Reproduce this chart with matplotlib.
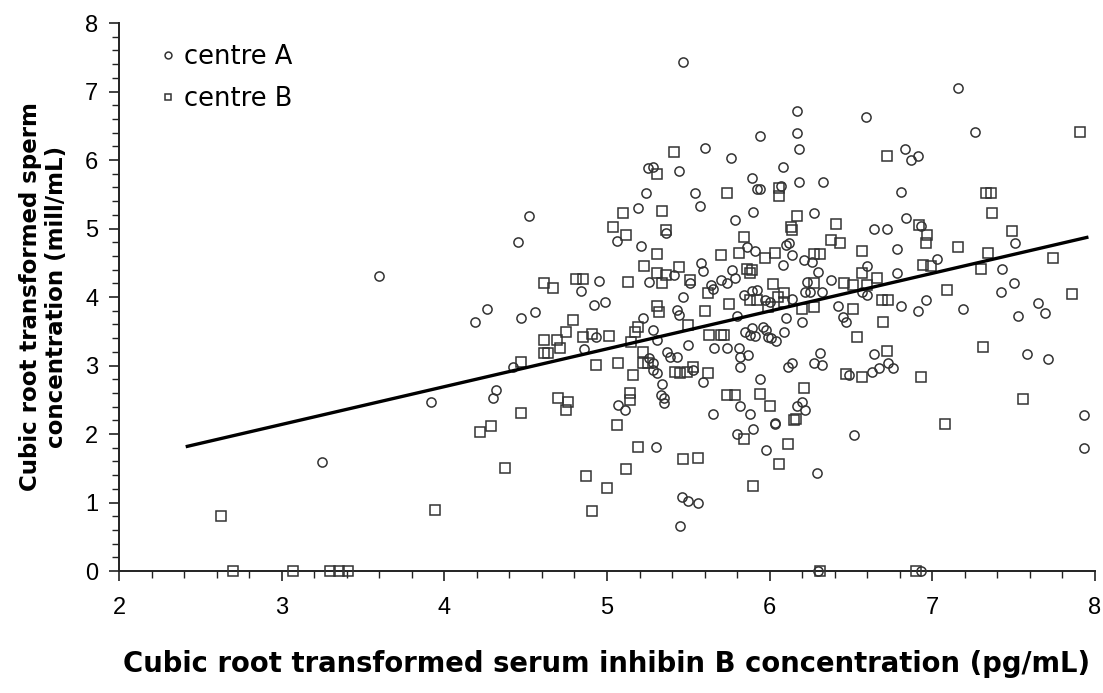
import matplotlib
matplotlib.use("Agg")
import matplotlib.pyplot as plt
from matplotlib.ticker import MultipleLocator

plt.rcParams['font.family'] = ['Liberation Sans', 'DejaVu Sans']

centre_a = [
    (3.60,4.30),(3.92,2.47),(3.25,1.59),
    (4.52,5.18),(5.25,5.88),(5.24,5.52),(5.19,5.30),
    (5.47,7.43),(6.17,6.72),(6.17,6.39),(6.18,6.16),(5.94,6.35),(5.60,6.17),(5.76,6.03),(6.08,5.90),
    (5.28,5.90),(5.44,5.84),(5.89,5.74),(5.92,5.58),(5.94,5.57),(6.07,5.62),(6.18,5.68),(6.33,5.68),
    (5.54,5.52),(5.57,5.33),(5.90,5.24),(6.27,5.23),(5.79,5.12),
    (7.16,7.05),(6.59,6.63),(7.26,6.41),(6.83,6.16),(6.91,6.06),(6.87,6.00),(6.81,5.53),(6.84,5.15),
    (6.64,5.00),(6.72,5.00),(6.93,5.03),
    (7.51,4.79),(6.78,4.70),(7.03,4.56),(6.60,4.45),(6.78,4.35),(7.43,4.41),(6.60,4.03),(6.57,4.07),
    (7.50,4.20),(7.42,4.07),(6.81,3.87),(6.96,3.96),(6.91,3.80),(7.19,3.83),(7.65,3.91),(7.69,3.77),
    (7.53,3.72),(6.64,3.17),(7.58,3.17),(7.71,3.09),(6.73,3.04),(6.76,2.96),(6.67,2.96),(6.63,2.91),
    (6.49,2.86),(7.93,2.28),
    (6.52,1.99),(7.93,1.80),(6.93,0.0),
    (5.30,1.81),(5.46,1.08),(5.50,1.02),(5.56,0.99),(5.45,0.66),(5.80,2.00),(5.90,2.07),(6.03,2.15),
    (5.98,1.77),(6.29,1.43),(6.30,0.0),
    (4.45,4.80),(5.06,4.82),(5.21,4.74),(5.26,4.22),(4.95,4.23),(4.84,4.09),(4.92,3.88),(4.99,3.93),
    (4.26,3.82),(4.19,3.63),(4.47,3.69),(4.56,3.78),(4.93,3.42),(4.86,3.24),(4.42,2.98),(5.22,3.69),
    (4.32,2.64),(4.30,2.53),(5.07,2.42),(5.11,2.35),
    (5.36,4.94),(5.86,4.73),(5.91,4.67),(6.12,4.79),(6.10,4.76),(6.14,4.61),(6.08,4.47),(6.21,4.54),
    (6.26,4.51),(5.58,4.50),(5.59,4.38),(5.41,4.32),(5.51,4.20),(5.77,4.39),(5.79,4.28),(5.70,4.25),
    (5.64,4.17),(5.65,4.12),(5.74,4.20),(5.47,4.00),(5.84,4.03),(5.89,4.09),(5.92,4.10),(5.97,3.96),
    (6.00,3.93),(6.14,3.97),(6.23,4.22),(6.25,4.07),(6.22,4.07),(6.30,4.36),(6.38,4.25),(6.32,4.07),
    (6.42,3.87),(6.10,3.69),(6.20,3.63),(6.45,3.71),(6.47,3.63),(5.43,3.81),(5.44,3.74),(5.80,3.72),
    (5.28,3.52),(5.85,3.49),(5.89,3.55),(5.88,3.45),(5.91,3.43),(5.96,3.56),(5.98,3.52),(5.99,3.42),
    (6.01,3.40),(6.04,3.36),(6.09,3.49),(5.50,3.30),(5.31,3.37),(5.66,3.26),(5.74,3.26),(5.81,3.26),
    (5.82,3.12),(5.87,3.15),(5.82,2.98),(5.37,3.20),(5.39,3.12),(5.43,3.12),(5.26,3.11),(5.28,3.04),
    (5.28,2.93),(5.31,2.89),(5.53,2.93),(5.59,2.76),(5.34,2.73),(5.33,2.57),(5.35,2.53),(5.35,2.45),
    (5.82,2.41),(5.88,2.29),(5.65,2.29),(5.94,2.80),(6.11,2.98),(6.14,3.04),(6.27,3.04),(6.31,3.18),
    (6.32,3.01),(6.17,2.41),(6.20,2.47),(6.22,2.35),(6.03,2.16),
]

centre_b = [
    (2.63,0.80),(3.94,0.89),(2.70,0.0),(3.07,0.0),(3.30,0.0),(3.35,0.0),(3.41,0.0),
    (5.10,5.23),(5.04,5.02),
    (5.41,6.11),(5.31,5.80),(6.06,5.59),(6.06,5.47),(5.74,5.52),(5.34,5.26),(6.17,5.18),(6.41,5.07),
    (6.13,5.02),(5.36,4.98),
    (7.91,6.41),(6.72,6.06),(7.33,5.52),(7.36,5.52),(7.37,5.23),(6.92,5.05),(7.49,4.97),
    (6.97,4.90),(6.96,4.79),(6.57,4.67),(7.16,4.73),(7.34,4.64),(7.74,4.57),(6.94,4.47),(6.99,4.45),
    (6.57,4.35),(7.30,4.41),(6.66,4.28),(6.51,4.17),(6.60,4.17),(7.09,4.10),(7.86,4.04),(6.69,3.96),
    (6.73,3.96),(6.51,3.82),(6.70,3.63),(6.54,3.42),(7.31,3.27),(6.72,3.21),(6.57,2.83),(6.93,2.83),
    (7.56,2.51),(7.08,2.15),(6.90,0.0),
    (5.47,1.63),(5.56,1.65),(5.84,1.93),(6.15,2.20),(6.11,1.85),(6.06,1.56),(5.90,1.24),(6.31,0.0),
    (4.22,2.03),(4.29,2.12),(4.37,1.50),(4.87,1.39),(4.91,0.88),(5.00,1.21),(5.12,1.49),(5.19,1.81),
    (5.06,2.13),
    (5.12,4.90),(5.23,4.45),(5.13,4.22),(4.81,4.26),(4.85,4.26),(4.61,4.20),(4.67,4.13),(4.79,3.66),
    (4.75,3.49),(4.61,3.37),(4.69,3.37),(4.71,3.26),(4.61,3.18),(4.64,3.18),(4.85,3.42),(4.91,3.46),
    (5.01,3.43),(4.47,3.05),(4.93,3.01),(5.07,3.04),(5.19,3.56),(5.17,3.49),(5.15,3.34),(5.22,3.20),
    (5.22,3.04),(5.25,3.04),(5.16,2.86),(4.70,2.53),(4.76,2.47),(4.75,2.35),(4.47,2.31),(5.14,2.60),
    (5.14,2.50),
    (5.84,4.88),(5.81,4.64),(5.97,4.57),(6.03,4.64),(6.14,4.98),(6.38,4.83),(6.43,4.79),(6.27,4.63),
    (6.31,4.63),(5.31,4.63),(5.70,4.61),(5.44,4.44),(5.31,4.35),(5.36,4.32),(5.34,4.20),(5.51,4.25),
    (5.86,4.41),(5.88,4.35),(5.89,4.39),(5.62,4.06),(6.02,4.19),(5.88,3.96),(5.92,3.96),(5.99,3.85),
    (6.05,4.00),(6.09,4.06),(6.09,3.93),(6.27,4.20),(6.46,4.20),(6.27,3.85),(6.20,3.82),(5.31,3.87),
    (5.32,3.78),(5.60,3.80),(5.75,3.90),(5.50,3.59),(5.63,3.45),(5.70,3.45),(5.72,3.45),(5.42,2.91),
    (5.45,2.89),(5.49,2.91),(5.53,2.98),(5.62,2.89),(5.74,2.57),(5.79,2.57),(5.94,2.58),(6.00,2.41),
    (6.47,2.88),(6.21,2.67),(6.16,2.22),
]

fit_x = [2.42, 7.95]
fit_y = [1.82, 4.87]

x_ticks = [2, 3, 4, 5, 6, 7, 8]
y_ticks = [0, 1, 2, 3, 4, 5, 6, 7, 8]

fig = plt.figure(figsize=(11.03, 6.93), dpi=100)
ax = fig.add_axes([0.1079, 0.176, 0.8848, 0.7908])

ax_x, ax_y = zip(*centre_a)
bx, by = zip(*centre_b)
ec = '#333333'
ax.plot(ax_x, ax_y, linestyle='none', marker='o', markersize=6.6, markerfacecolor='none',
        markeredgecolor=ec, markeredgewidth=1.1, label='centre A', clip_on=False, zorder=3)
ax.plot(bx, by, linestyle='none', marker='s', markersize=6.6, markerfacecolor='none',
        markeredgecolor=ec, markeredgewidth=1.1, label='centre B', clip_on=False, zorder=3)
ax.plot(fit_x, fit_y, color='black', linewidth=2.4, zorder=4)

ax.set_xlim(2, 8)
ax.set_ylim(0, 8)
ax.set_xticks(x_ticks)
ax.set_yticks(y_ticks)
ax.xaxis.set_minor_locator(MultipleLocator(0.2))
ax.yaxis.set_minor_locator(MultipleLocator(0.2))
ax.tick_params(axis='both', which='major', direction='out', length=7, width=1.2,
               labelsize=17, color='#222222')
ax.tick_params(axis='x', which='major', pad=12)
ax.tick_params(axis='y', which='major', pad=8)
ax.tick_params(axis='both', which='minor', direction='out', length=5, width=1.0, color='#222222')

for s in ['top', 'right']:
    ax.spines[s].set_visible(False)
for s in ['left', 'bottom']:
    ax.spines[s].set_linewidth(1.4)
    ax.spines[s].set_color('#222222')

ax.set_xlabel('Cubic root transformed serum inhibin B concentration (pg/mL)',
              fontsize=19.8, fontweight='bold', labelpad=22, fontfamily='DejaVu Sans')
ax.set_ylabel('Cubic root transformed sperm\nconcentration (mill/mL)',
              fontsize=16.5, fontweight='bold', labelpad=12, fontfamily='DejaVu Sans')

leg = ax.legend(loc='upper left', bbox_to_anchor=(0.028, 0.98), frameon=False,
                prop={'family': 'DejaVu Sans', 'size': 18.5},
                handletextpad=0.15, labelspacing=0.6, handlelength=0.9, borderaxespad=0.0,
                markerscale=0.75)

fig.savefig('out.png', dpi=100)
